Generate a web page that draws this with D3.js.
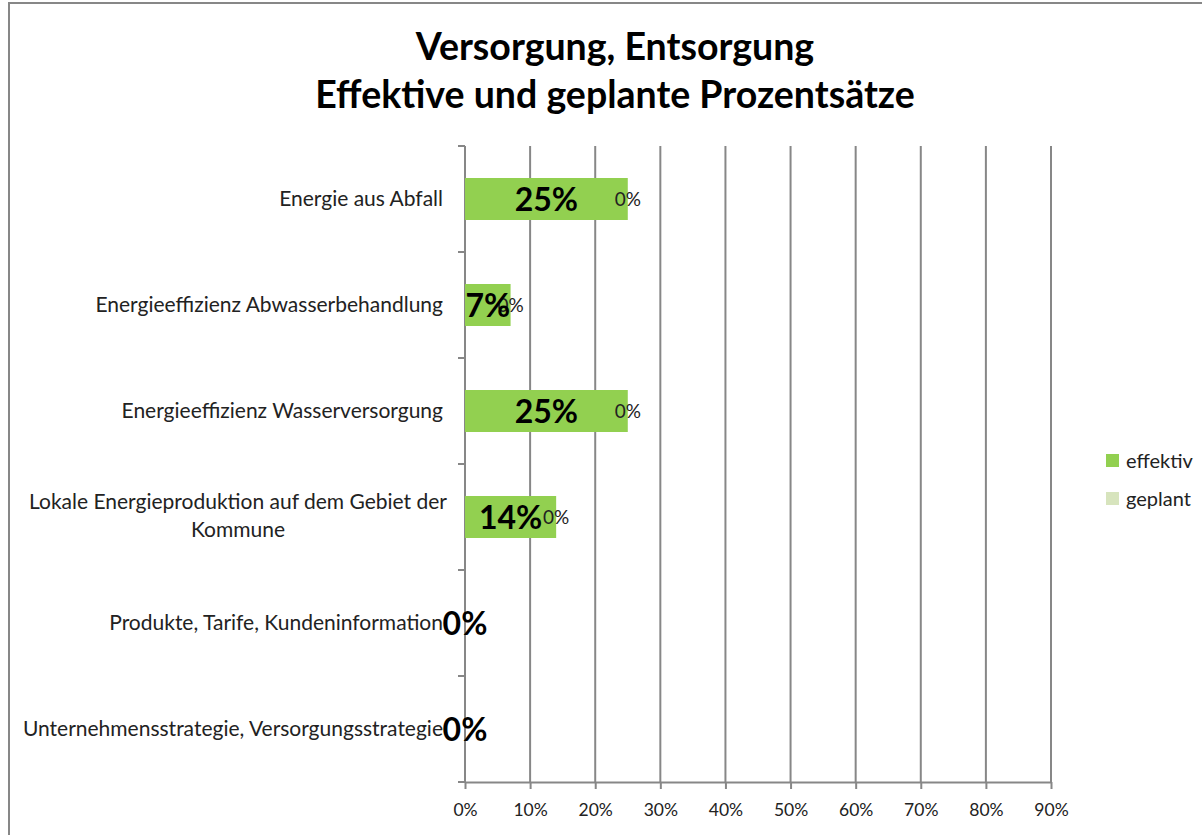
<!DOCTYPE html>
<html>
<head>
<meta charset="utf-8">
<script src="https://cdn.jsdelivr.net/npm/d3@7"></script>
<style>
  body { margin: 0; background: #fff; }
  text { font-family: Lato, "Open Sans", sans-serif; }
</style>
</head>
<body>
<div id="chart-area"></div>
<script>
// data
var categories = ['Energie aus Abfall',
    'Energieeffizienz Abwasserbehandlung',
    'Energieeffizienz Wasserversorgung',
    'Lokale Energieproduktion auf dem Gebiet der|Kommune',
    'Produkte, Tarife, Kundeninformation',
    'Unternehmensstrategie, Versorgungsstrategie'];
var effektiv = [0.25, 0.07, 0.25, 0.14, 0, 0];
var geplant = [0, 0, 0, 0, 0, 0];
var seriesNames = ['effektiv', 'geplant'];
var seriesColors = ['#92d050', '#d7e4bd'];
var tickValues = [0, 0.1, 0.2, 0.3, 0.4, 0.5, 0.6, 0.7, 0.8, 0.9];
var titleLines = ['Versorgung, Entsorgung', 'Effektive und geplante Prozentsätze'];

var width = 1202, height = 835;
var plotLeft = 465, plotRight = 1051, plotTop = 146, plotBottom = 782;

var svg = d3.select('#chart-area').append('svg')
    .attr('width', width)
    .attr('height', height)

// outer frame
svg.append('rect')
    .attr('x', 9).attr('y', 3)
    .attr('width', 1210).attr('height', 850)
    .attr('fill', 'none')
    .attr('stroke', '#878787')
    .attr('stroke-width', 2)

svg.selectAll('.title')
    .data(titleLines)
    .enter()
    .append('text')
    .attr('class', 'title')
    .attr('x', 615)
    .attr('y', (d, i) => 60 + i * 48)
    .attr('text-anchor', 'middle')
    .attr('font-size', 37.5)
    .attr('font-weight', 'bold')
    .text((d) => d)

var x = d3.scaleLinear()
    .domain([0, 0.9])
    .range([plotLeft, plotRight])

var y = d3.scaleBand()
    .domain(categories)
    .range([plotTop, plotBottom])

// vertical grid lines
svg.selectAll('.grid')
    .data(tickValues.slice(1))
    .enter()
    .append('line')
    .attr('x1', (d) => x(d)).attr('x2', (d) => x(d))
    .attr('y1', plotTop).attr('y2', plotBottom)
    .attr('stroke', '#878787')
    .attr('stroke-width', 2)

var xAxis = svg.append('g')
    .attr('transform', 'translate(0,' + plotBottom + ')')
    .call(d3.axisBottom(x).tickValues(tickValues).tickFormat(d3.format('.0%')).tickSize(7).tickSizeOuter(0))
xAxis.select('.domain').attr('stroke', '#878787').attr('stroke-width', 2)
xAxis.selectAll('.tick line').attr('stroke', '#878787').attr('stroke-width', 2)
xAxis.selectAll('.tick text')
    .attr('font-family', 'Lato, sans-serif')
    .attr('font-size', 17.5)
    .attr('fill', '#222')
    .attr('dy', '1.35em')

// left axis with ticks between the categories
var yAxis = svg.append('g')
    .attr('transform', 'translate(' + plotLeft + ',0)')
var bounds = categories.map((d) => y(d)).concat([plotBottom])
yAxis.append('line')
    .attr('x1', 0).attr('x2', 0)
    .attr('y1', plotTop).attr('y2', plotBottom)
    .attr('stroke', '#878787').attr('stroke-width', 2)
yAxis.selectAll('.btick')
    .data(bounds)
    .enter()
    .append('line')
    .attr('x1', -7).attr('x2', 0)
    .attr('y1', (d) => d).attr('y2', (d) => d)
    .attr('stroke', '#878787').attr('stroke-width', 2)

var catLabels = svg.selectAll('.cat')
    .data(categories)
    .enter()
    .append('text')
    .attr('class', 'cat')
    .attr('font-size', 21)
    .attr('fill', '#222')
    .attr('y', (d) => y(d) + y.bandwidth() / 2)
catLabels.each(function (d) {
    var lines = d.split('|');
    var el = d3.select(this);
    if (lines.length === 1) {
        el.append('tspan').attr('x', 443).attr('text-anchor', 'end').attr('dy', '0.35em').text(lines[0]);
    } else {
        el.append('tspan').attr('x', 238).attr('text-anchor', 'middle').attr('dy', -8).text(lines[0]);
        el.append('tspan').attr('x', 238).attr('text-anchor', 'middle').attr('dy', 28).text(lines[1]);
    }
})

var barH = 42;
var rows = categories.map((c, i) => ({cat: c, eff: effektiv[i], gep: geplant[i]}))

svg.selectAll('.bar')
    .data(rows)
    .enter()
    .append('rect')
    .attr('x', plotLeft)
    .attr('y', (d) => y(d.cat) + y.bandwidth() / 2 - barH / 2)
    .attr('width', (d) => x(d.eff) - plotLeft)
    .attr('height', barH)
    .attr('fill', seriesColors[0])

svg.selectAll('.bar2')
    .data(rows)
    .enter()
    .append('rect')
    .attr('x', plotLeft)
    .attr('y', (d) => y(d.cat) + y.bandwidth() / 2 - barH / 2)
    .attr('width', (d) => x(d.gep) - plotLeft)
    .attr('height', barH)
    .attr('fill', seriesColors[1])

// small labels of the planned series, sitting at the bar end
svg.selectAll('.lab2')
    .data(rows.filter((d) => d.eff > 0))
    .enter()
    .append('text')
    .attr('x', (d) => x(d.eff))
    .attr('y', (d) => y(d.cat) + y.bandwidth() / 2)
    .attr('dy', '0.35em')
    .attr('text-anchor', 'middle')
    .attr('font-size', 19)
    .attr('fill', '#222')
    .text((d) => d3.format('.0%')(d.gep))

// big labels of the effective series
svg.selectAll('.lab')
    .data(rows)
    .enter()
    .append('text')
    .attr('x', (d) => (plotLeft + x(d.eff)) / 2)
    .attr('y', (d) => y(d.cat) + y.bandwidth() / 2)
    .attr('dy', '0.36em')
    .attr('text-anchor', 'middle')
    .attr('font-size', 32)
    .attr('font-weight', 'bold')
    .attr('fill', '#000')
    .text((d) => d3.format('.0%')(d.eff))

// legend
var legend = svg.selectAll('.legend')
    .data(seriesNames)
    .enter()
    .append('g')
    .attr('transform', (d, i) => 'translate(1106,' + (454 + i * 38) + ')')
legend.append('rect')
    .attr('width', 13).attr('height', 13)
    .attr('fill', (d, i) => seriesColors[i])
legend.append('text')
    .attr('x', 20).attr('y', 7)
    .attr('dy', '0.35em')
    .attr('font-size', 20)
    .attr('fill', '#222')
    .text((d) => d)
</script>
</body>
</html>
